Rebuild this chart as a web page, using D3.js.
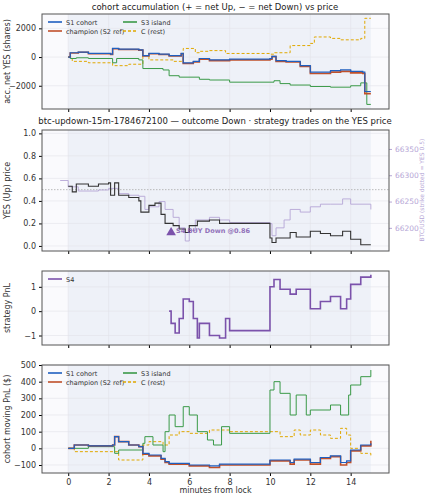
<!DOCTYPE html>
<html><head><meta charset="utf-8">
<script src="https://cdn.jsdelivr.net/npm/d3@7"></script>
<style>body{margin:0;background:#fff}text{font-family:"DejaVu Sans",sans-serif}</style>
</head><body><svg id="c" width="429" height="500"></svg>
<script>
// ---- data ----
const accS1 = [[0,0],[0.1,300],[0.5,350],[1,250],[2.1,200],[2.2,600],[2.5,550],[3.5,500],[3.7,100],[4,250],[4.5,200],[5,100],[5.6,250],[5.7,-400],[6.2,-300],[6.5,-100],[7,-200],[8,-150],[10,-100],[10.1,50],[10.3,-250],[10.8,-300],[11.5,-600],[12,-1050],[13,-950],[13.5,-900],[14,-1000],[14.6,-1050],[14.7,-2400],[15,-2400]];
const accChamp = [[0,0],[0.1,280],[0.5,330],[1,230],[2.1,180],[2.2,580],[2.5,530],[3.5,480],[3.7,80],[4,230],[4.5,180],[5,80],[5.6,230],[5.7,-450],[6.2,-350],[6.5,-150],[7,-250],[8,-200],[10,-150],[10.1,30],[10.3,-300],[10.8,-350],[11.5,-650],[12,-1150],[13,-1050],[13.5,-1000],[14,-1100],[14.6,-1150],[14.7,-2550],[15,-2550]];
const accS3 = [[0,0],[0.1,-100],[0.4,-50],[1,-100],[2.2,-400],[2.4,-100],[3.5,-200],[3.7,-800],[4.7,-900],[5,-1300],[5.5,-1400],[6.5,-1550],[7,-1600],[8,-1750],[10,-1750],[10.2,-1650],[10.5,-1850],[11,-1950],[12,-2050],[13,-2100],[14,-2000],[14.5,-1800],[14.8,-3300],[15,-3300]];
const accC = [[0,0],[0.2,-300],[1,-400],[2.2,-600],[3,-500],[3.7,100],[4,-200],[5.2,-300],[5.7,600],[6.3,300],[6.5,400],[7,450],[7.8,250],[10,200],[10.2,300],[11,800],[12,950],[12.2,1400],[13,1300],[13.5,1200],[14.5,1300],[14.7,2700],[15,2700]];
const yesPrice = [[0,0.53],[0.2,0.48],[0.4,0.55],[1,0.53],[1.5,0.55],[2,0.56],[2.1,0.45],[2.3,0.56],[2.5,0.45],[3,0.43],[3.5,0.40],[3.6,0.30],[4,0.36],[4.3,0.38],[4.6,0.28],[4.8,0.20],[5.2,0.18],[5.5,0.15],[5.8,0.12],[6,0.18],[6.4,0.22],[7,0.23],[7.5,0.20],[8,0.20],[10,0.07],[10.1,0.03],[10.3,0.07],[11,0.12],[11.3,0.08],[12,0.13],[12.5,0.11],[13,0.09],[13.6,0.13],[14,0.06],[14.5,0.01],[15,0.01]];
const btc = [[-0.4,66290],[0,66278],[0.5,66270],[1.5,66272],[2,66275],[2.5,66265],[3,66262],[3.5,66260],[3.8,66235],[4,66240],[4.5,66250],[4.8,66235],[5.2,66220],[5.5,66200],[5.8,66175],[6,66195],[6.3,66215],[7,66220],[7.5,66215],[8,66210],[10,66208],[10.1,66185],[10.3,66200],[10.7,66215],[11,66235],[11.5,66230],[12,66240],[12.5,66245],[13,66245],[13.6,66255],[14,66245],[15,66235]];
const trade = {t:5.1, p:0.12, label:"S4 BUY Down @0.86"};
const s4Pnl = [[5,0],[5.1,-0.5],[5.3,-0.9],[5.5,-0.3],[5.7,0.5],[6,0.4],[6.2,-0.3],[6.4,-1.1],[6.5,-0.5],[7,-1.0],[7.5,-1.1],[7.8,-0.3],[8,-0.8],[9.9,-0.8],[10,1.0],[10.2,1.3],[10.5,0.9],[11,0.7],[11.3,0.9],[12,0.1],[12.5,0.4],[13,0.6],[13.5,0.1],[13.8,0.5],[14,1.1],[14.5,1.4],[15,1.5]];
const pnlS1 = [[0,0],[0.3,20],[1,15],[2.2,20],[2.3,70],[2.5,40],[3,20],[3.5,10],[3.7,-30],[4,-40],[4.6,-60],[4.8,-80],[5,-90],[6,-100],[7,-105],[7.5,-95],[8,-95],[10,-70],[11,-85],[11.2,-65],[12,-85],[12.5,-55],[13,-45],[13.5,-85],[13.8,-75],[14,-10],[14.5,20],[15,30]];
const pnlChamp = [[0,0],[0.3,20],[1,15],[2.2,20],[2.3,70],[2.5,40],[3,20],[3.5,10],[3.7,-35],[4,-45],[4.6,-65],[4.8,-85],[5,-95],[6,-105],[7,-115],[7.5,-100],[8,-100],[10,-75],[11,-95],[11.2,-70],[12,-95],[12.5,-60],[13,-50],[13.5,-100],[13.8,-85],[14,-15],[14.5,15],[15,45]];
const pnlS3 = [[0,0],[1,10],[2.3,-30],[2.5,-10],[3.7,30],[3.8,70],[4.2,20],[4.7,-20],[4.8,100],[5,200],[5.3,130],[5.7,250],[6,200],[6.4,100],[6.9,50],[7.2,20],[7.6,130],[8,90],[9.95,90],[10,350],[10.2,400],[10.5,330],[11,200],[11.3,320],[11.8,200],[12,230],[13,260],[13.5,200],[13.9,320],[14,380],[14.5,430],[15,470]];
const pnlC = [[0,0],[0.3,-20],[2.3,-20],[2.5,-70],[3.7,20],[4,40],[4.7,20],[5,80],[5.5,100],[6,90],[7,110],[8,100],[10,100],[10.5,70],[11.2,110],[11.5,80],[12,110],[12.5,80],[13,60],[13.5,120],[13.8,80],[14,0],[14.5,-30],[15,-50]];
const xTicks = [0,2,4,6,8,10,12,14];

const col = {s1:"#1f5fbf", ch:"#c0502a", s3:"#3a9a48", c:"#e0a800", s4:"#7b52ab", yes:"#333", btc:"#b6a6d6"};
const svg = d3.select("#c");
const x = d3.scaleLinear().domain([-1.3,15.9]).range([42,389]);
const minusFmt = d=>d<0?"\u2212"+Math.abs(d):String(d);

function panel(y0,y1,domain,ticks,ylabel,showX,fmt){
  const y = d3.scaleLinear().domain(domain).range([y1,y0]);
  const g = svg.append("g");
  g.append("rect").attr("x",42).attr("y",y0).attr("width",347).attr("height",y1-y0).attr("fill","#fafafd");
  g.append("rect").attr("x",x(0)).attr("y",y0).attr("width",x(15)-x(0)).attr("height",y1-y0).attr("fill","#eef1f8");
  xTicks.forEach(t=>g.append("line").attr("x1",x(t)).attr("x2",x(t)).attr("y1",y0).attr("y2",y1).attr("stroke","#e3e3ea").attr("stroke-width",0.6));
  ticks.forEach(t=>g.append("line").attr("x1",42).attr("x2",389).attr("y1",y(t)).attr("y2",y(t)).attr("stroke","#e3e3ea").attr("stroke-width",0.6));
  const ax = g.append("g").attr("transform",`translate(42,0)`).call(d3.axisLeft(y).tickValues(ticks).tickSize(3).tickFormat(fmt||minusFmt));
  ax.select(".domain").remove();
  ax.selectAll("text").attr("font-size",8).attr("fill","#333");
  const bx = g.append("g").attr("transform",`translate(0,${y1})`).call(d3.axisBottom(x).tickValues(xTicks).tickSize(3).tickFormat(showX?d3.format("d"):""));
  bx.select(".domain").remove();
  bx.selectAll("text").attr("font-size",8).attr("fill","#333");
  g.append("text").attr("transform",`translate(10,${(y0+y1)/2}) rotate(-90)`).attr("text-anchor","middle").attr("font-size",8).attr("fill","#333").text(ylabel);
  return {g,y,y0,y1};
}
function frame(p){p.g.append("rect").attr("x",42).attr("y",p.y0).attr("width",347).attr("height",p.y1-p.y0).attr("fill","none").attr("stroke","#555").attr("stroke-width",1);}
function line(p,data,c,w,dash,ys){
  const yy = ys||p.y;
  p.g.append("path").datum(data).attr("d",d3.line().x(d=>x(d[0])).y(d=>yy(d[1])).curve(d3.curveStepAfter))
   .attr("fill","none").attr("stroke",c).attr("stroke-width",w).attr("stroke-dasharray",dash||null);
}
function legend(p,items,x0,y0){
  items.forEach((it,i)=>{
    const cx = x0 + (i%2)*75, cy = y0 + Math.floor(i/2)*9;
    p.g.append("line").attr("x1",cx).attr("x2",cx+14).attr("y1",cy).attr("y2",cy).attr("stroke",it[1]).attr("stroke-width",1.6).attr("stroke-dasharray",it[2]||null);
    p.g.append("text").attr("x",cx+18).attr("y",cy+2.5).attr("font-size",6.5).attr("fill","#333").text(it[0]);
  });
}
function title(y,t){svg.append("text").attr("x",215).attr("y",y).attr("text-anchor","middle").attr("font-size",8.5).attr("fill","#222").text(t);}

// Panel 1
title(10,"cohort accumulation (+ = net Up, \u2212 = net Down) vs price");
const p1 = panel(14,109,[-3620,3000],[-2000,0,2000],"acc. net YES (shares)",false);
line(p1,accC,col.c,1,"3,2");
line(p1,accS3,col.s3,1);
line(p1,accChamp,col.ch,1.6);
line(p1,accS1,col.s1,1.2);
legend(p1,[["S1 cohort",col.s1],["S3 island",col.s3],["champion (S2 ref)",col.ch],["C (rest)",col.c,"3,2"]],48,22);
frame(p1);

// Panel 2
title(124,"btc-updown-15m-1784672100 \u2014 outcome Down \u00b7 strategy trades on the YES price");
const p2 = panel(130,251,[-0.045,1.03],[0,0.2,0.4,0.6,0.8,1.0],"YES (Up) price",false,d3.format(".1f"));
const yb = d3.scaleLinear().domain([66156,66386]).range([251,130]);
p2.g.append("line").attr("x1",42).attr("x2",389).attr("y1",p2.y(0.5)).attr("y2",p2.y(0.5)).attr("stroke","#aaa").attr("stroke-width",0.8).attr("stroke-dasharray","1.5,1.5");
line(p2,btc,col.btc,0.9,null,yb);
line(p2,yesPrice,col.yes,1.1);
p2.g.append("path").attr("d",d3.symbol(d3.symbolTriangle,40)()).attr("transform",`translate(${x(trade.t)},${p2.y(trade.p)})`).attr("fill",col.s4);
p2.g.append("text").attr("x",x(trade.t)+5).attr("y",p2.y(trade.p)+1).attr("font-size",6.5).attr("font-weight","bold").attr("fill",col.s4).attr("opacity",0.8).text(trade.label);
const ra = p2.g.append("g").attr("transform","translate(389,0)").call(d3.axisRight(yb).tickValues([66200,66250,66300,66350]).tickSize(3).tickFormat(d3.format("d")));
ra.select(".domain").remove();
ra.selectAll("text").attr("font-size",7.5).attr("fill",col.btc);
ra.selectAll("line").attr("stroke",col.btc);
p2.g.append("text").attr("transform",`translate(424,190) rotate(-90)`).attr("text-anchor","middle").attr("font-size",6).attr("fill",col.btc).text("BTC/USD (strike dotted = YES 0.5)");
frame(p2);

// Panel 3
const p3 = panel(271,345,[-1.39,1.65],[-1,0,1],"strategy PnL",false);
line(p3,s4Pnl,col.s4,1.6);
legend(p3,[["S4",col.s4]],48,279);
frame(p3);

// Panel 4
const p4 = panel(365,473,[-148,500],[-100,0,100,200,300,400,500],"cohort moving PnL ($)",true);
line(p4,pnlC,col.c,1,"3,2");
line(p4,pnlS3,col.s3,1);
line(p4,pnlChamp,col.ch,1.6);
line(p4,pnlS1,col.s1,1.2);
legend(p4,[["S1 cohort",col.s1],["S3 island",col.s3],["champion (S2 ref)",col.ch],["C (rest)",col.c,"3,2"]],48,373);
frame(p4);
svg.append("text").attr("x",x(7.3)).attr("y",493).attr("text-anchor","middle").attr("font-size",8).attr("fill","#333").text("minutes from lock");
</script></body></html>
